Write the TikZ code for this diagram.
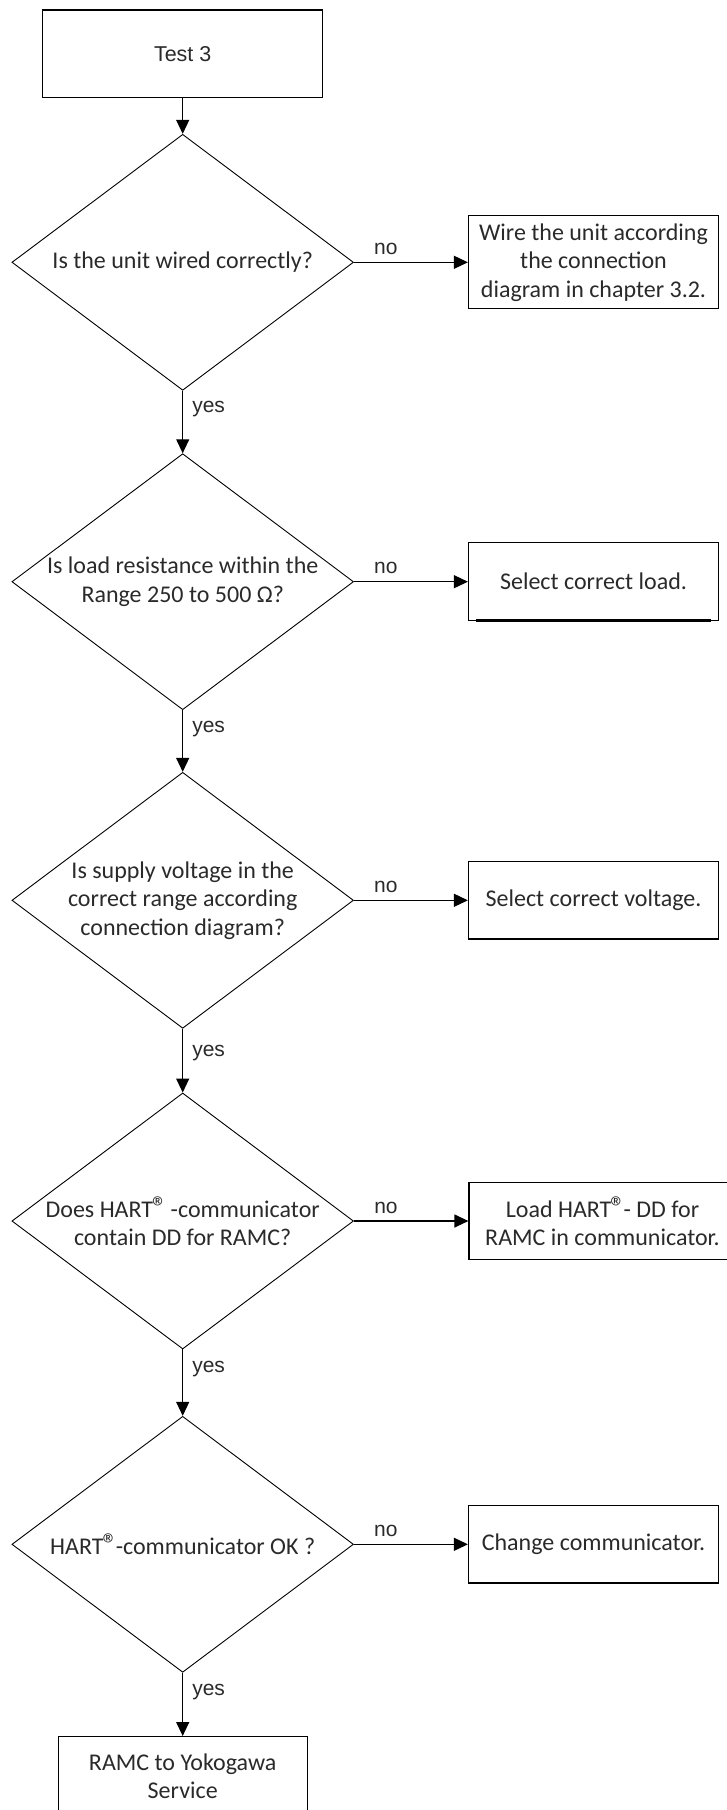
\documentclass[tikz,border=0pt]{standalone}
\usepackage{fontspec}
\setmainfont{Carlito}
\newfontfamily\arialf{Liberation Sans}
\usetikzlibrary{shapes.geometric,arrows.meta}
\definecolor{txt}{HTML}{2A2A2A}
\newcommand{\regmark}{{\kern-1pt\fontsize{30}{30}\selectfont ®\kern-2pt}}
\begin{document}
\begin{tikzpicture}[x=1pt,y=-1pt,
  every node/.style={text=txt},
  dia/.style={draw=black,diamond,minimum width=341.6pt,minimum height=256pt,inner sep=0pt,line width=0.9pt},
  dtext/.style={align=center,font=\fontsize{24}{28.5}\selectfont,inner sep=0pt},
  rbox/.style={draw=black,rectangle,line width=1.2pt,align=center,inner sep=0pt,font=\fontsize{24}{28.5}\selectfont},
  conn/.style={line width=1.2pt,draw=black,-{Triangle[length=14pt,width=13pt]}},
  lab/.style={font=\arialf\fontsize{21}{24}\selectfont,inner sep=0pt}
]
\useasboundingbox (0,0) rectangle (726,1810);
% start box
\node[rbox,minimum width=280pt,minimum height=87.7pt,font=\arialf\fontsize{21.5}{24}\selectfont] (start) at (182.7,53.9) {Test 3};
% diamonds
\node[dia] (d1) at (182.7,262.3) {};
\node[dia] (d2) at (182.7,581.7) {};
\node[dia] (d3) at (182.7,900.3) {};
\node[dia] (d4) at (182.7,1221) {};
\node[dia] (d5) at (182.7,1544.3) {};
\node[dtext] at (d1) {Is the unit wired correctly?};
\node[dtext] at (d2) {Is load resistance within the\\Range 250 to 500 Ω?};
\node[dtext] at (d3) {Is supply voltage in the\\correct range according\\connection diagram?};
\node[dtext] at (d4) {Does HART\regmark{} -communicator\\contain DD for RAMC?};
\node[dtext] at (d5) {HART\regmark-communicator OK ?};
% right boxes
\node[rbox,minimum width=250pt,minimum height=93pt] (b1) at (593.5,262.3) {Wire the unit according\\the connection\\diagram in chapter 3.2.};
\node[rbox,minimum width=250pt,minimum height=78pt] (b2) at (593.5,581.7) {Select correct load.};
\node[rbox,minimum width=250pt,minimum height=77.3pt] (b3) at (593.5,900.3) {Select correct voltage.};
\node[rbox,minimum width=267pt,minimum height=76.6pt] (b4) at (602.5,1221) {Load HART\regmark- DD for\\RAMC in communicator.};
\node[rbox,minimum width=250pt,minimum height=77.3pt] (b5) at (593.5,1544.3) {Change communicator.};
\draw[line width=2.6pt,black] ([xshift=8.5pt,yshift=0.6pt]b2.south west) -- ([xshift=-8pt,yshift=0.6pt]b2.south east);
% final box
\node[rbox,minimum width=249pt,minimum height=80pt,anchor=north] (end) at (182.7,1736) {};
\node[dtext] at (182.7,1776) {RAMC to Yokogawa\\Service};
% vertical connectors
\draw[conn] (start.south) -- (d1.north);
\draw[conn] (d1.south) -- node[lab,pos=0.3,right=9pt] {yes} (d2.north);
\draw[conn] (d2.south) -- node[lab,pos=0.3,right=9pt] {yes} (d3.north);
\draw[conn] (d3.south) -- node[lab,pos=0.38,right=9pt] {yes} (d4.north);
\draw[conn] (d4.south) -- node[lab,pos=0.3,right=9pt] {yes} (d5.north);
\draw[conn] (d5.south) -- node[lab,pos=0.3,right=9pt] {yes} (end.north);
% horizontal connectors
\draw[conn] (d1.east) -- node[lab,pos=0.28,above=7pt] {no} (d1.east -| b1.west);
\draw[conn] (d2.east) -- node[lab,pos=0.28,above=7pt] {no} (d2.east -| b2.west);
\draw[conn] (d3.east) -- node[lab,pos=0.28,above=7pt] {no} (d3.east -| b3.west);
\draw[conn] (d4.east) -- node[lab,pos=0.28,above=7pt] {no} (d4.east -| b4.west);
\draw[conn] (d5.east) -- node[lab,pos=0.28,above=7pt] {no} (d5.east -| b5.west);
\end{tikzpicture}
\end{document}
